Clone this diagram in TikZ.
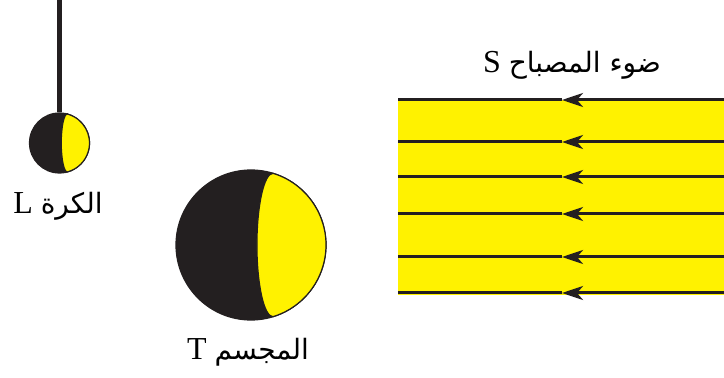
\documentclass[tikz,border=0pt]{standalone}
\usepackage{fontspec}
\setmainfont{Liberation Serif}
\newfontfamily\arabicfont[Script=Arabic]{DejaVu Sans}
\TeXXeTstate=1
\usetikzlibrary{arrows.meta,calc}
\definecolor{lampyellow}{HTML}{FFF200}
\definecolor{shadow}{HTML}{231F20}
\newcommand{\arabicsize}{\fontsize{28}{32}\selectfont}
\tikzset{
  ray/.style={draw=shadow, line width=3pt},
  ray head/.style={ray, -{Stealth[length=21pt,width=14pt,inset=6pt]}},
  dark ball/.style={circle, fill=shadow, draw=shadow, line width=1.2pt, inner sep=0pt},
  lit side/.style={fill=lampyellow, draw=shadow, line width=1.2pt},
  label text/.style={anchor=base, font=\fontsize{32}{36}\selectfont},
}
\begin{document}
\begin{tikzpicture}[x=1pt, y=1pt]
  \useasboundingbox (0,0) rectangle (724,378);

  % beam of light from the lamp
  \fill[lampyellow] (398,83) rectangle (724,278);
  \foreach \y [count=\i] in {278,236,201,164,121,85} {
    \coordinate (r\i) at (724,\y);
    \coordinate (m\i) at (562,\y);
    \coordinate (l\i) at (398,\y);
    \draw[ray head] (r\i) -- (m\i);
    \draw[ray] (m\i) -- (l\i);
  }
  \node[label text] (S) at (572,305)
    {\beginR{\arabicfont\arabicsize ضوء المصباح} S\endR};

  % small ball hanging from its rod
  \coordinate (top) at (59.5,378);
  \node[dark ball, minimum size=60pt] (L) at (59.5,235) {};
  \draw[shadow, line width=5pt] (top) -- (L.north);
  \fill[lit side] ([shift={(75:30)}]L.center)
    arc[start angle=75, end angle=-75, radius=30]
    arc[start angle=-90, end angle=-270, x radius=6, y radius=29] -- cycle;
  \node[label text] (Llabel) at (58,164)
    {\beginR{\arabicfont\arabicsize الكرة} L\endR};

  % large body lit from the right
  \node[dark ball, minimum size=150pt] (T) at (251,133) {};
  \fill[lit side] ([shift={(73:75)}]T.center)
    arc[start angle=73, end angle=-73, radius=75]
    arc[start angle=-90, end angle=-270, x radius=16, y radius=71.7] -- cycle;
  \node[label text] (Tlabel) at (248,18)
    {\beginR{\arabicfont\arabicsize المجسم} T\endR};
\end{tikzpicture}
\end{document}
